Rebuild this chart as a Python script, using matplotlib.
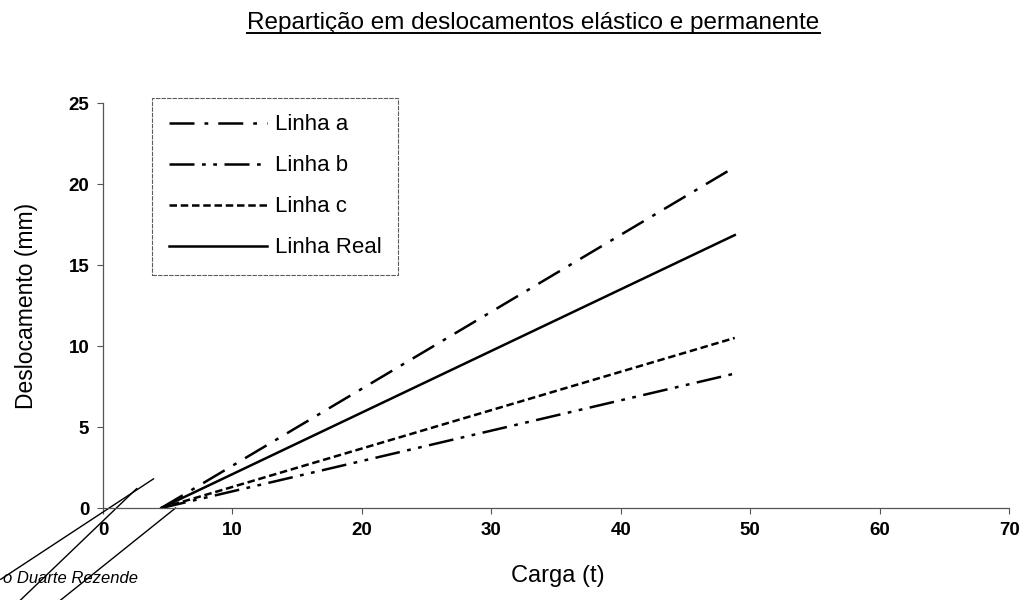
import matplotlib
matplotlib.use("Agg")
import matplotlib.pyplot as plt
from matplotlib.lines import Line2D

plt.rcParams["font.family"] = ["Liberation Sans", "DejaVu Sans"]

# Data
carga = [4.5, 48.8]
linha_a = [0.0, 21.05]
linha_b = [0.0, 8.3]
linha_c = [0.0, 10.5]
linha_real = [0.0, 16.85]

series_names = ["Linha a", "Linha b", "Linha c", "Linha Real"]
x_ticks = [0, 10, 20, 30, 40, 50, 60, 70]
y_ticks = [0, 5, 10, 15, 20, 25]

# stray pen strokes from the scan (signature) near the origin
stroke_x = [[-7.9, 3.9], [-6.4, 2.6], [-3.3, 5.6]]
stroke_y = [[-4.4, 1.8], [-5.7, 1.2], [-5.7, 0.0]]

fig = plt.figure(figsize=(10.22, 6), dpi=100)
ax = fig.add_axes([0.1008, 0.1533, 0.8867, 0.675])

styles = [
    (0, (10, 4, 1.5, 4)),
    (0, (10, 3, 1.5, 3, 1.5, 3)),
    (0, (3, 1.5)),
    "-",
]
for ys, name, ls in zip([linha_a, linha_b, linha_c, linha_real], series_names, styles):
    ax.plot(carga, ys, color="black", lw=1.8, linestyle=ls, label=name)

for sx, sy in zip(stroke_x, stroke_y):
    ax.plot(sx, sy, color="black", lw=1.0, clip_on=False)

ax.set_xlim(0, 70)
ax.set_ylim(0, 25)
ax.set_xticks(x_ticks)
ax.set_yticks(y_ticks)
ax.tick_params(labelsize=13.5, length=4, width=0.8, color="#555555", pad=6)
for lab in ax.get_xticklabels() + ax.get_yticklabels():
    lab.set_fontweight("bold")

for side in ["top", "right"]:
    ax.spines[side].set_visible(False)
for side in ["left", "bottom"]:
    ax.spines[side].set_color("#555555")
    ax.spines[side].set_linewidth(0.9)

ax.set_ylabel("Deslocamento (mm)", fontsize=16.5, labelpad=22)
fig.text(0.546, 0.04, "Carga (t)", fontsize=17, ha="center", va="center")

leg = ax.legend(
    loc="upper left",
    bbox_to_anchor=(0.149, 0.837),
    bbox_transform=fig.transFigure,
    fontsize=16,
    frameon=True,
    fancybox=False,
    handlelength=4.4,
    handletextpad=0.35,
    labelspacing=0.9,
    borderpad=0.75,
    borderaxespad=0,
)
leg.get_frame().set_edgecolor("#333333")
leg.get_frame().set_linewidth(0.8)
leg.get_frame().set_linestyle((0, (4, 1)))

title = fig.text(0.522, 0.962, "Repartição em deslocamentos elástico e permanente",
                 fontsize=17.5, ha="center", va="center")

fig.text(0.003, 0.036, "o Duarte Rezende", fontsize=12, ha="left", va="center",
         style="italic")

# underline the title
fig.canvas.draw()
bb = title.get_window_extent().transformed(fig.transFigure.inverted())
fig.add_artist(Line2D([bb.x0, bb.x1], [bb.y0 + 0.002, bb.y0 + 0.002],
                      transform=fig.transFigure, color="black", lw=1.4))

fig.savefig("out.png", dpi=100)
